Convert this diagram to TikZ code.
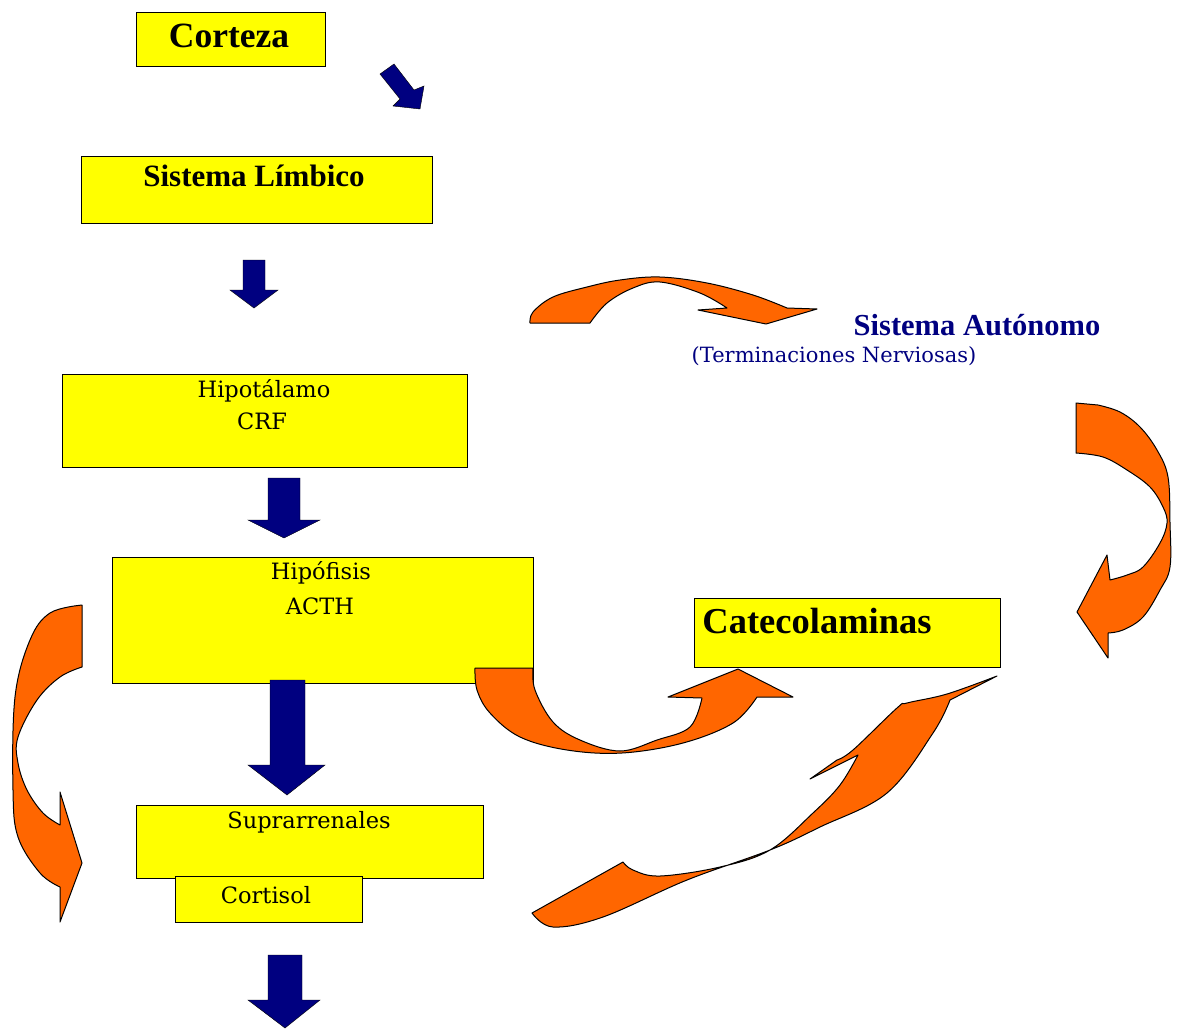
\documentclass[tikz,border=0pt]{standalone}
\usepackage{fontspec}
\setmainfont{Liberation Serif}
\newfontfamily\regfont{DejaVu Serif}
\definecolor{boxyellow}{RGB}{255,255,0}
\definecolor{navyblue}{RGB}{0,0,128}
\definecolor{orangefill}{RGB}{255,102,0}
\tikzset{
  ybox/.style={draw=black, line width=1pt, fill=boxyellow, inner sep=0pt},
  navyarrow/.style={fill=navyblue, draw=black, line width=0.4pt},
  orangearrow/.style={fill=orangefill, draw=black, line width=1pt, line join=round},
  regtext/.style={font=\regfont\fontsize{22.5}{24}\selectfont, inner sep=0pt},
  boldtext/.style={font=\fontsize{31}{33}\selectfont\bfseries, inner sep=0pt},
}
\begin{document}
\begin{tikzpicture}[x=1pt,y=-1pt]
\useasboundingbox[fill=white] (0,0) rectangle (1177,1028);

% boxes
\node[ybox, minimum width=189pt, minimum height=54pt] (corteza) at (230.5,39) {};
\node[ybox, minimum width=351pt, minimum height=67pt] (limbico) at (256.5,189.5) {};
\node[ybox, minimum width=405pt, minimum height=93pt] (hipot) at (264.5,420.5) {};
\node[ybox, minimum width=421pt, minimum height=126pt] (hipof) at (322.5,620) {};
\node[ybox, minimum width=306pt, minimum height=69pt] (cateco) at (847,632.5) {};
\node[ybox, minimum width=347pt, minimum height=73pt] (supra) at (309.5,841.5) {};
\node[ybox, minimum width=187pt, minimum height=46pt] (cortisol) at (268.5,899) {};

% texts
\node[boldtext, font=\fontsize{35.5}{37}\selectfont\bfseries] (tcort) at (229,36) {Corteza};
\node[boldtext] (tlimb) at (254,176) {Sistema Límbico};
\node[regtext] (thip1) at (264,391) {Hipotálamo};
\node[regtext] (thip2) at (262,421) {CRF};
\node[regtext] (thf1) at (321,573) {Hipófisis};
\node[regtext] (thf2) at (320,606) {ACTH};
\node[boldtext, font=\fontsize{36.5}{38}\selectfont\bfseries] (tcat) at (817,621) {Catecolaminas};
\node[boldtext, text=navyblue, font=\fontsize{30.5}{32}\selectfont\bfseries] (tsa) at (977,325) {Sistema Autónomo};
\node[regtext, text=navyblue, font=\regfont\fontsize{21}{23}\selectfont] (tterm) at (834,356) {(Terminaciones Nerviosas)};
\node[regtext] (tsup) at (309,822) {Suprarrenales};
\node[regtext] (tcortis) at (266,895) {Cortisol};

% navy block arrows
\filldraw[navyarrow] (380,74) -- (394,64) -- (414,90) -- (424,86) -- (420,109) -- (393,106) -- (400,99) -- cycle;
\filldraw[navyarrow] (243,260) -- (265,260) -- (265,290) -- (278,290) -- (254,308) -- (230,290) -- (243,290) -- cycle;
\filldraw[navyarrow] (268,478) -- (300,478) -- (300,520) -- (320,520) -- (284,538) -- (248,520) -- (268,520) -- cycle;
\filldraw[navyarrow] (270,680) -- (305,680) -- (305,765) -- (325,765) -- (287,795) -- (248,765) -- (270,765) -- cycle;
\filldraw[navyarrow] (268,955) -- (302,955) -- (302,1000) -- (320,1000) -- (285,1028) -- (248,1000) -- (268,1000) -- cycle;

% orange curved arrows
% top: towards Sistema Autonomo
\filldraw[orangearrow] plot[smooth, tension=0.6] coordinates {(530,323) (533,312) (553,297) (587,287) (620,280) (660,277) (707,283) (753,295) (787,308)}
  -- (817,309) -- (766,324) -- (698,310)
  -- plot[smooth, tension=0.6] coordinates {(727,308) (700,293) (660,282) (633,288) (607,303) (590,323)} -- cycle;
% right: from Sistema Autonomo down to Catecolaminas
\filldraw[orangearrow] (1076,403) -- plot[smooth, tension=0.6] coordinates {(1098,405) (1120,412) (1140,427) (1157,450) (1168,477) (1170,523) (1170,567) (1160,590) (1143,617) (1123,630) (1108,633)}
  -- (1108,658) -- (1077,612) -- (1107,555)
  -- plot[smooth, tension=0.6] coordinates {(1110,580) (1127,575) (1143,567) (1160,543) (1167,523) (1163,507) (1150,487) (1127,470) (1103,457) (1076,453)} -- cycle;
% left: beside Hipofisis
\filldraw[orangearrow] (82,605) -- plot[smooth, tension=0.6] coordinates {(82,667) (60,677) (37,700) (18,737) (18,763) (27,790) (43,813) (60,825)}
  -- (60,792) -- (82,863) -- (60,922)
  -- plot[smooth, tension=0.6] coordinates {(60,887) (40,873) (18,837) (13,790) (15,697) (30,640) (50,613) (82,605)} -- cycle;
% middle: from Hipofisis to Catecolaminas
\filldraw[orangearrow] (475,668) -- plot[smooth, tension=0.6] coordinates {(533,668) (535,690) (553,722) (580,740) (620,751) (657,740) (690,727) (702,698)}
  -- (668,697) -- (738,669) -- (793,697)
  -- plot[smooth, tension=0.6] coordinates {(757,697) (733,723) (683,743) (622,753) (567,750) (520,737) (490,713) (477,690) (475,668)} -- cycle;
% bottom right: from Cortisol towards Catecolaminas
\filldraw[orangearrow] (997,676) -- plot[smooth, tension=0.6] coordinates {(950,700) (933,733) (887,793) (820,827) (770,850) (687,880) (603,917) (553,927) (532,913)}
  -- plot[smooth, tension=0.6] coordinates {(623,862) (633,870) (660,876) (720,867) (770,850) (813,813) (840,785) (858,755)}
  -- (810,779) -- plot[smooth, tension=0.6] coordinates {(837,760) (853,750) (897,708) (907,703) (947,694) (997,676)} -- cycle;
\end{tikzpicture}
\end{document}
